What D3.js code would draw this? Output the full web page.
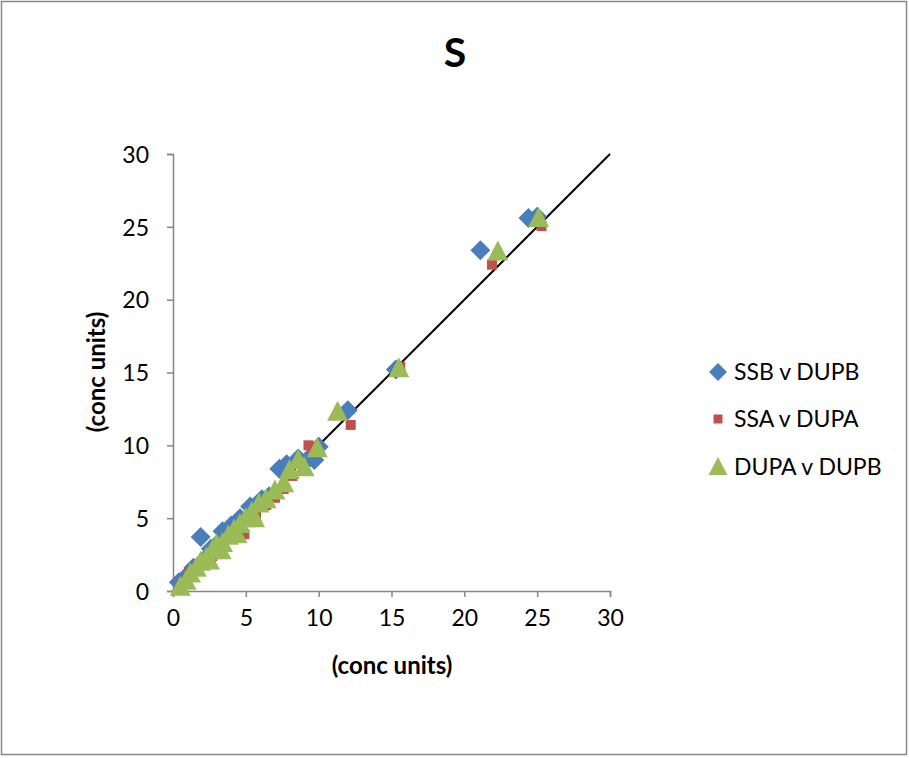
<!DOCTYPE html>
<html>
<head>
<meta charset="utf-8">
<script src="https://cdn.jsdelivr.net/npm/d3@7/dist/d3.min.js"></script>
<style>
  html, body { margin: 0; padding: 0; background: #fff; }
  svg { display: block; font-family: "Lato", "Open Sans", sans-serif; }
</style>
</head>
<body>
<svg id="chart" width="909" height="758"></svg>
<script>
// Duplicate-analysis comparison for S, in concentration units
const seriesNames = ["SSB v DUPB", "SSA v DUPA", "DUPA v DUPB"];
const seriesColors = ["#4A7EBB", "#C0504D", "#9BBB59"];

const ssbVsDupb = [
  [0.4,0.6],[0.9,1.0],[1.4,1.6],[1.9,3.7],[2.2,2.2],[2.6,2.9],[3.1,3.3],[3.4,4.1],
  [4.0,4.5],[4.6,5.0],[5.3,5.8],[6.1,6.3],[6.6,6.5],[7.3,8.4],[7.8,8.7],[8.6,9.1],
  [9.2,9.0],[9.7,9.0],[10.0,9.9],[12.0,12.4],[15.3,15.2],[21.1,23.4],[24.4,25.6],[25.0,25.7]
];
const ssaVsDupa = [
  [0.6,0.5],[1.1,1.2],[1.6,1.6],[2.1,1.9],[2.7,2.4],[3.3,3.0],[3.9,3.6],[4.6,4.1],
  [4.9,3.9],[5.0,4.8],[5.7,5.3],[6.4,5.9],[7.0,6.4],[7.6,7.0],[8.2,7.9],[9.3,10.0],
  [9.6,9.7],[12.2,11.4],[15.6,15.4],[21.9,22.4],[25.3,25.05]
];
const dupaVsDupb = [
  [0.5,0.3],[0.9,0.7],[1.2,1.2],[1.6,1.6],[1.9,2.0],[2.3,2.3],[2.5,2.1],[2.7,2.8],
  [3.0,3.2],[3.3,2.8],[3.4,3.3],[3.8,3.8],[4.2,4.2],[4.4,3.9],[4.6,4.6],[5.0,5.0],
  [5.4,5.4],[5.6,5.0],[5.9,6.0],[6.4,6.3],[7.0,6.9],[7.6,7.4],[8.0,8.3],[8.6,9.0],
  [9.0,8.5],[9.9,9.8],[11.3,12.3],[15.5,15.3],[22.3,23.3],[25.1,25.6]
];
const xTicks = [0, 5, 10, 15, 20, 25, 30];
const yTicks = [0, 5, 10, 15, 20, 25, 30];
const identityLine = [[0, 0], [30, 30]];

const svg = d3.select("#chart");

// Chart frame
svg.append("rect")
  .attr("x", 1.5).attr("y", 1.5).attr("width", 905).attr("height", 753)
  .attr("fill", "#fff").attr("stroke", "#888").attr("stroke-width", 1.5);

const x = d3.scaleLinear().domain([0, 30]).range([173, 610]);
const y = d3.scaleLinear().domain([0, 30]).range([591, 154]);

const axisColor = "#868686";
const labelFont = "23px";

// X axis
const xAxis = svg.append("g")
  .attr("transform", `translate(0,${y(0)})`)
  .call(d3.axisBottom(x).tickValues(xTicks).tickSize(6).tickPadding(13).tickFormat(d3.format("d")));
// Y axis
const yAxis = svg.append("g")
  .attr("transform", `translate(${x(0)},0)`)
  .call(d3.axisLeft(y).tickValues(yTicks).tickSize(6).tickPadding(18).tickFormat(d3.format("d")));

[xAxis, yAxis].forEach(g => {
  g.select(".domain").attr("stroke", axisColor).attr("stroke-width", 1.5);
  g.selectAll(".tick line").attr("stroke", axisColor).attr("stroke-width", 1.5);
  g.selectAll(".tick text")
    .attr("fill", "#000")
    .style("font-size", labelFont)
    .style("font-family", "Lato, 'Open Sans', sans-serif");
});
yAxis.selectAll(".tick text").attr("dy", "0.36em");

// Identity line
svg.append("path")
  .datum(identityLine)
  .attr("d", d3.line().x(d => x(d[0])).y(d => y(d[1])))
  .attr("stroke", "#000").attr("stroke-width", 2).attr("fill", "none");

// Marker shapes
const shapes = [
  s => `M0,${-10*s}L${10*s},0L0,${10*s}L${-10*s},0Z`,
  s => `M${-5*s},${-5*s}H${5*s}V${5*s}H${-5*s}Z`,
  s => `M0,${-11*s}L${10.5*s},${9*s}L${-10.5*s},${9*s}Z`
];

const allSeries = [ssbVsDupb, ssaVsDupa, dupaVsDupb];
allSeries.forEach((data, i) => {
  svg.append("g").selectAll("path")
    .data(data)
    .join("path")
    .attr("transform", d => `translate(${x(d[0])},${y(d[1])})`)
    .attr("d", shapes[i](1))
    .attr("fill", seriesColors[i]);
});

// Title
svg.append("text")
  .attr("x", 455).attr("y", 67)
  .attr("text-anchor", "middle")
  .style("font-size", "41px").style("font-weight", "bold")
  .text("S");

// Axis titles
svg.append("text")
  .attr("x", 392).attr("y", 674)
  .attr("text-anchor", "middle")
  .style("font-size", "24px").style("font-weight", "bold")
  .text("(conc units)");
svg.append("text")
  .attr("transform", "translate(105,372) rotate(-90)")
  .attr("text-anchor", "middle")
  .style("font-size", "24px").style("font-weight", "bold")
  .text("(conc units)");

// Legend
const legendY = [372, 419, 467];
const legend = svg.append("g");
seriesNames.forEach((name, i) => {
  legend.append("path")
    .attr("transform", `translate(718,${legendY[i]})`)
    .attr("d", shapes[i](0.9))
    .attr("fill", seriesColors[i]);
  legend.append("text")
    .attr("x", 734).attr("y", legendY[i])
    .attr("dy", "0.36em")
    .style("font-size", labelFont)
    .text(name);
});
</script>
</body>
</html>
